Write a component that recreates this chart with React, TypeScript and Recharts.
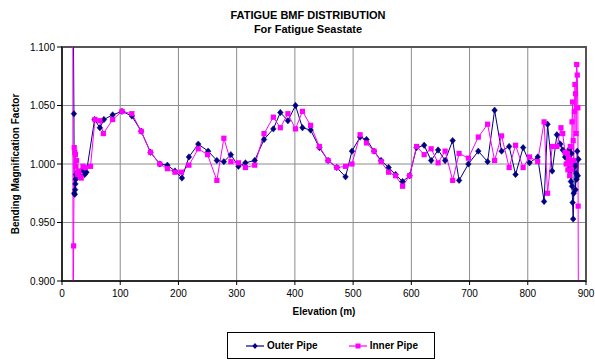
import React from 'react';
import { LineChart, Line, XAxis, YAxis, CartesianGrid, ReferenceArea, Label } from 'recharts';

// ─── Data ────────────────────────────────────────────────────────────────────

const outerElev = [
  19, 20.5, 21, 22, 22.5, 23, 23.5, 24, 25, 30, 35, 39, 42,
  56, 65, 72, 87, 103, 120, 136, 152, 168, 181, 194, 206, 218, 234,
  251, 266, 278, 290, 303, 315, 331, 347, 363, 375, 388, 401, 413, 427,
  442, 457, 472, 487, 498, 512, 523, 536, 548, 561, 573, 585, 597, 609,
  622, 634, 646, 658, 671, 682, 698, 715, 731, 743, 755, 768, 779, 792,
  803, 817, 828, 834, 842, 850, 856, 860, 864, 868, 870, 872, 874, 875,
  876, 877, 878, 879, 880, 881, 882, 883, 884, 885, 886, 887,
];
const outerBmf = [
  1.16, 1.043, 0.975, 0.974, 0.978, 0.983, 0.987, 0.991, 0.988, 0.99, 0.995, 0.991, 0.993,
  1.038, 1.031, 1.038, 1.042, 1.045, 1.041, 1.028, 1.01, 1.0, 0.999, 0.994, 0.988, 1.006, 1.017,
  1.011, 1.003, 1.002, 1.008, 0.998, 1.001, 1.003, 1.021, 1.03, 1.044, 1.037, 1.05, 1.031, 1.029,
  1.014, 1.003, 0.997, 0.989, 1.011, 1.023, 1.021, 1.011, 1.003, 0.997, 0.991, 0.985, 0.99, 1.014,
  1.016, 1.003, 1.012, 1.003, 1.02, 0.986, 1.0, 1.011, 1.002, 1.046, 1.011, 1.015, 0.991, 1.014,
  1.001, 1.006, 0.968, 1.034, 0.994, 1.025, 1.017, 1.012, 1.006, 1.01, 0.995, 1.013, 0.985, 1.009,
  0.981, 0.967, 0.953, 0.975, 1.0, 0.998, 0.978, 0.992, 0.987, 1.011, 0.99, 1.004,
];

const innerElev = [
  18.5, 19, 20, 21, 22, 23, 24, 25, 26, 27, 29, 31, 33, 36, 40, 49,
  56.6, 65, 71, 87, 103, 120, 136, 152, 168, 181, 194, 205, 218, 234,
  250, 266, 278, 290, 303, 315, 331, 347, 363, 375, 388, 401, 413, 427,
  442, 457, 472, 487, 498, 512, 523, 536, 548, 561, 573, 585, 597, 609,
  622, 634, 646, 658, 671, 682, 698, 715, 731, 743, 755, 768, 779, 792,
  803, 817, 828, 834, 842, 850, 857, 860, 864, 866, 868, 869, 870, 872,
  873, 874, 875, 876, 877, 878, 879, 880, 881, 882, 883, 884, 885, 886,
  886.5, 887,
];
const innerBmf = [
  1.17, 0.85, 0.93, 1.014, 1.01, 1.008, 0.998, 1.003, 0.993, 0.991, 0.994, 0.989, 0.988, 0.998, 0.997, 0.998,
  1.038, 1.037, 1.026, 1.038, 1.045, 1.043, 1.028, 1.01, 1.0, 0.996, 0.993, 0.993, 0.999, 1.013,
  1.008, 0.986, 1.022, 1.002, 1.001, 0.997, 0.999, 1.026, 1.04, 1.031, 1.043, 1.03, 1.045, 1.033,
  1.015, 1.003, 0.997, 0.998, 1.0, 1.025, 1.018, 1.011, 1.002, 0.993, 0.99, 0.981, 0.99, 1.015,
  1.008, 1.013, 1.001, 1.011, 0.986, 1.009, 1.005, 1.023, 1.034, 1.003, 1.024, 0.997, 1.016, 0.997,
  1.006, 1.002, 1.036, 0.975, 1.015, 1.015, 1.031, 1.026, 1.01, 1.0, 1.009, 0.995, 1.005, 0.99,
  1.015, 1.0, 0.995, 1.036, 1.053, 1.02, 1.003, 1.045, 1.068, 1.06, 1.026, 1.085, 1.076, 1.048,
  0.964, 0.85,
];

const xTicks = [0, 100, 200, 300, 400, 500, 600, 700, 800, 900];
const yTicks = [0.9, 0.95, 1.0, 1.05, 1.1];

const NAVY = '#000080';
const MAGENTA = '#FF00FF';
const FONT = 'Arial, "Liberation Sans", sans-serif';

const outerData = outerElev.map((x, i) => ({ x, y: outerBmf[i] }));
const innerData = innerElev.map((x, i) => ({ x, y: innerBmf[i] }));

// ─── Markers ─────────────────────────────────────────────────────────────────

function DiamondDot(props: any) {
  const { cx, cy, index } = props;
  if (cx == null || cy == null) return <g key={`d${index}`} />;
  return (
    <path
      key={`d${index}`}
      d={`M${cx},${cy - 3.2}L${cx + 2.8},${cy}L${cx},${cy + 3.2}L${cx - 2.8},${cy}Z`}
      fill={NAVY}
      stroke={NAVY}
      strokeWidth={0.5}
    />
  );
}

function SquareDot(props: any) {
  const { cx, cy, index } = props;
  if (cx == null || cy == null) return <g key={`s${index}`} />;
  return <rect key={`s${index}`} x={cx - 2.6} y={cy - 2.6} width={5.2} height={5.2} fill={MAGENTA} />;
}

// ─── Legend ──────────────────────────────────────────────────────────────────

function LegendBox() {
  const item = (label: string, color: string, square: boolean) => (
    <div style={{ display: 'flex', alignItems: 'center' }}>
      <svg width={18} height={8} style={{ marginRight: 3 }}>
        <line x1={0} y1={4} x2={18} y2={4} stroke={color} strokeWidth={1.2} />
        {square
          ? <rect x={6.5} y={1.5} width={5} height={5} fill={color} />
          : <path d="M9,1 L11.6,4 L9,7 L6.4,4 Z" fill={color} />}
      </svg>
      <span>{label}</span>
    </div>
  );
  return (
    <div
      style={{
        position: 'absolute', left: 227, top: 332, width: 208, height: 27,
        boxSizing: 'border-box', border: '1px solid #000', background: '#fff',
        display: 'flex', alignItems: 'center', justifyContent: 'space-between',
        padding: '0 16px 0 18px', fontFamily: FONT, fontSize: 10, fontWeight: 'bold',
      }}
    >
      {item('Outer Pipe', NAVY, false)}
      {item('Inner Pipe', MAGENTA, true)}
    </div>
  );
}

// ─── Chart ───────────────────────────────────────────────────────────────────

export default function App() {
  return (
    <div style={{ position: 'absolute', left: 0, top: 0, width: 595, height: 360, background: '#fff', fontFamily: FONT }}>
      <div style={{ position: 'absolute', left: 0, width: 616, top: 8, textAlign: 'center', fontSize: 11, fontWeight: 'bold', lineHeight: '14px' }}>
        <div>FATIGUE BMF DISTRIBUTION</div>
        <div>For Fatigue Seastate</div>
      </div>

      <LineChart
        width={595}
        height={360}
        margin={{ top: 47, right: 9, bottom: 49, left: 0 }}
        style={{ position: 'absolute', left: 0, top: 0 }}
      >
        <CartesianGrid stroke="#8c8c8c" strokeWidth={1} vertical horizontal />
        <XAxis
          type="number"
          dataKey="x"
          domain={[0, 900]}
          ticks={xTicks}
          height={30}
          axisLine={{ stroke: '#000' }}
          tickLine={{ stroke: '#000' }}
          tickSize={4}
          tickMargin={5}
          tick={{ fontSize: 10, fill: '#000', fontFamily: FONT }}
          allowDataOverflow
        >
          <Label
            content={() => (
              <text x={324} y={315} textAnchor="middle" fontSize={10} fontWeight="bold" fontFamily={FONT} fill="#000">
                Elevation (m)
              </text>
            )}
          />
        </XAxis>
        <YAxis
          type="number"
          dataKey="y"
          domain={[0.9, 1.1]}
          ticks={yTicks}
          width={62}
          allowDataOverflow
          axisLine={{ stroke: '#000' }}
          tickLine={{ stroke: '#000' }}
          tickSize={5}
          tickFormatter={(v: number) => v.toFixed(3)}
          tick={{ fontSize: 10, fill: '#000', fontFamily: FONT }}
        >
          <Label
            content={() => (
              <text
                x={19}
                y={164}
                transform="rotate(-90 19 164)"
                textAnchor="middle"
                fontSize={10}
                fontWeight="bold"
                fontFamily={FONT}
                fill="#000"
              >
                Bending Magnification Factor
              </text>
            )}
          />
        </YAxis>
        <ReferenceArea x1={0} x2={900} y1={0.9} y2={1.1} fill="none" stroke="#555" strokeWidth={2} />
        <Line
          data={outerData}
          dataKey="y"
          name="Outer Pipe"
          stroke={NAVY}
          strokeWidth={1}
          dot={DiamondDot}
          activeDot={false}
          isAnimationActive={false}
        />
        <Line
          data={innerData}
          dataKey="y"
          name="Inner Pipe"
          stroke={MAGENTA}
          strokeWidth={1}
          dot={SquareDot}
          activeDot={false}
          isAnimationActive={false}
        />
      </LineChart>

      <LegendBox />
    </div>
  );
}
